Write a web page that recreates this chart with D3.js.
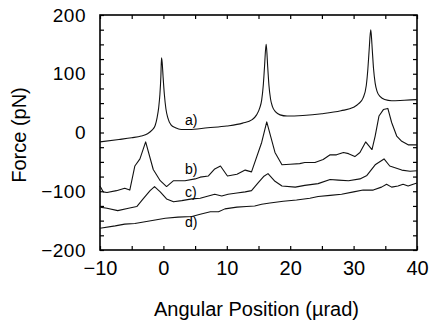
<!DOCTYPE html>
<html>
<head>
<meta charset="utf-8">
<script src="https://cdn.jsdelivr.net/npm/d3@7"></script>
<style>
  body { margin: 0; background: #fff; }
  svg { display: block; font-family: "Liberation Sans", Arial, sans-serif; }
  .axis path { display: none; }
  .axis line { stroke: #000; stroke-width: 1.2; }
  .axis text { font-size: 19px; fill: #000; }
</style>
</head>
<body>
<svg id="chart"></svg>
<script>
// Curve values: [angular position (µrad), force (pN)]
const curveA = [
  [-10, -16], [-7, -12], [-5, -9], [-3.5, -6], [-2.5, -2], [-1.8, 4], [-1.3, 12],
  [-1.0, 25], [-0.75, 42], [-0.55, 65], [-0.4, 95], [-0.3, 127], [-0.2, 120],
  [-0.05, 95], [0.15, 65], [0.4, 40], [0.7, 25], [1.2, 13], [1.9, 8], [2.8, 5],
  [4, 5], [7, 8], [10, 11], [12.5, 16], [14, 22], [14.7, 30], [15.2, 42],
  [15.5, 55], [15.75, 80], [15.95, 112], [16.2, 150], [16.3, 140], [16.45, 112],
  [16.65, 80], [16.9, 57], [17.2, 44], [17.7, 35], [18.4, 30], [19.5, 28], [22, 29],
  [25, 32], [28, 37], [30, 43], [30.8, 49], [31.5, 59], [32.0, 80], [32.25, 108],
  [32.45, 140], [32.7, 175], [32.8, 165], [32.95, 140], [33.15, 108], [33.4, 84],
  [33.7, 70], [34.2, 61], [34.9, 56], [36, 54], [38, 55], [40, 56]
];
const curveB = [
  [-10, -91], [-9.5, -101], [-8.9, -102], [-7.4, -99], [-6.1, -95], [-5.3, -98],
  [-4.5, -57], [-3.7, -45], [-2.8, -16], [-1.6, -63], [-0.5, -82], [0.5, -92],
  [1.6, -82], [3.4, -82], [5.0, -79], [5.8, -76], [7.1, -74], [8.1, -62], [9.0, -57],
  [10.1, -74], [11.6, -71], [12.9, -64], [13.9, -67], [15.5, -17], [16.3, 18],
  [17.6, -34], [18.7, -55], [20.0, -54], [21.5, -53], [22.3, -51], [23.9, -51],
  [25.2, -46], [26.3, -38], [27.3, -38], [28.4, -34], [29.2, -36], [30.2, -41],
  [31.0, -34], [31.9, -16], [32.9, -29], [33.4, -6], [34.0, 28], [34.7, 39],
  [35.4, 41], [36.0, 17], [36.8, -6], [37.6, -15], [38.6, -21], [40, -21]
];
const curveC = [
  [-10, -127], [-8.9, -129], [-7.2, -133], [-5.5, -129], [-4.2, -126], [-3.2, -113],
  [-2.1, -99], [-1.4, -92], [-0.5, -101], [0.5, -113], [1.6, -118], [2.9, -116],
  [4.5, -113], [5.8, -112], [6.8, -109], [8.1, -105], [9.2, -108], [10.2, -105],
  [11.6, -103], [12.9, -101], [13.9, -99], [15.0, -85], [15.8, -75], [16.5, -70],
  [17.6, -83], [18.7, -91], [20.8, -93], [22.3, -90], [24.4, -87], [26.3, -80],
  [27.6, -81], [29.2, -82], [31.0, -79], [32.1, -73], [33.4, -55], [34.8, -45],
  [35.7, -57], [37.6, -64], [38.9, -66], [40, -65]
];
const curveD = [
  [-10, -163], [-7.6, -159], [-6.1, -156], [-4.5, -155], [-2.9, -152], [-1.3, -149],
  [0.3, -146], [2.3, -144], [4.5, -143], [5.8, -139], [7.4, -135], [8.7, -135],
  [9.7, -130], [11.6, -127], [13.1, -126], [14.4, -125], [15.5, -122], [16.8, -120],
  [18.9, -117], [21.0, -115], [23.1, -112], [24.4, -109], [26.3, -107], [28.1, -105],
  [30.0, -101], [31.5, -98], [33.1, -98], [34.4, -93], [35.2, -88], [36.0, -93],
  [37.0, -91], [37.8, -88], [38.6, -91], [39.4, -88], [40, -86]
];

// curve tags, placed in data coordinates
const curveLabels = [
  { text: "a)", x: 3.4, y: 12 },
  { text: "b)", x: 3.4, y: -71 },
  { text: "c)", x: 3.4, y: -110 },
  { text: "d)", x: 3.4, y: -161 }
];

const xTickLabels = [-10, 0, 10, 20, 30, 40];
const xTickMarks = [-10, -5, 0, 5, 10, 15, 20, 25, 30, 35, 40];
const yTickLabels = [-200, -100, 0, 100, 200];
const yTickMarks = [-200, -175, -150, -125, -100, -75, -50, -25, 0, 25, 50, 75, 100, 125, 150, 175, 200];

const W = 429, H = 326;
const margin = { top: 15, right: 12, bottom: 76, left: 100 };
const width = W - margin.left - margin.right;
const height = H - margin.top - margin.bottom;

const svg = d3.select("#chart")
    .attr("width", W)
    .attr("height", H);

const g = svg.append("g")
    .attr("transform", "translate(" + margin.left + "," + margin.top + ")");

const x = d3.scaleLinear().domain([-10, 40]).range([0, width]);
const y = d3.scaleLinear().domain([-200, 200]).range([height, 0]);

// inward ticks on all four sides
g.append("g").attr("class", "axis")
    .attr("transform", "translate(0," + height + ")")
    .call(d3.axisBottom(x).tickValues(xTickMarks).tickSize(-4).tickFormat(""));
g.append("g").attr("class", "axis")
    .call(d3.axisTop(x).tickValues(xTickMarks).tickSize(-4).tickFormat(""));
g.append("g").attr("class", "axis")
    .call(d3.axisLeft(y).tickValues(yTickMarks).tickSize(-4).tickFormat(""));
g.append("g").attr("class", "axis")
    .attr("transform", "translate(" + width + ",0)")
    .call(d3.axisRight(y).tickValues(yTickMarks).tickSize(-4).tickFormat(""));

// tick labels
g.append("g").attr("class", "axis")
    .attr("transform", "translate(0," + height + ")")
    .call(d3.axisBottom(x).tickValues(xTickLabels).tickSize(0).tickPadding(11).tickFormat(d3.format("d")))
    .selectAll("text").style("font-size", "20px");
g.append("g").attr("class", "axis")
    .call(d3.axisLeft(y).tickValues(yTickLabels).tickSize(0).tickPadding(14).tickFormat(d3.format("d")))
    .selectAll("text").style("letter-spacing", "0.5px");

// frame
g.append("rect")
    .attr("width", width)
    .attr("height", height)
    .attr("fill", "none")
    .attr("stroke", "#000")
    .attr("stroke-width", 1.6);

// curves
const smooth = d3.line()
    .x(d => x(d[0]))
    .y(d => y(d[1]))
    .curve(d3.curveMonotoneX);
const jagged = d3.line()
    .x(d => x(d[0]))
    .y(d => y(d[1]));

g.append("path")
    .datum(curveA)
    .attr("fill", "none")
    .attr("stroke", "#111")
    .attr("stroke-width", 1.1)
    .attr("d", smooth);

[curveB, curveC, curveD].forEach(c => {
    g.append("path")
        .datum(c)
        .attr("fill", "none")
        .attr("stroke", "#111")
        .attr("stroke-width", 1.1)
        .attr("stroke-linejoin", "round")
        .attr("d", jagged);
});

g.selectAll(".curve-label")
    .data(curveLabels)
    .enter().append("text")
    .attr("class", "curve-label")
    .attr("x", d => x(d.x))
    .attr("y", d => y(d.y))
    .style("font-size", "14px")
    .text(d => d.text);

// axis titles
svg.append("text")
    .attr("x", margin.left + width / 2 - 2)
    .attr("y", 316)
    .attr("text-anchor", "middle")
    .style("font-size", "20px")
    .text("Angular Position (\u00b5rad)");

svg.append("text")
    .attr("transform", "rotate(-90)")
    .attr("x", -135)
    .attr("y", 26)
    .attr("text-anchor", "middle")
    .style("font-size", "20px")
    .text("Force (pN)");
</script>
</body>
</html>
